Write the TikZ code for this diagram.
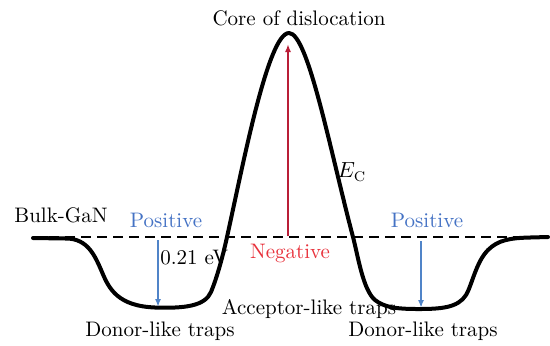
\documentclass[tikz,border=0pt]{standalone}
\usetikzlibrary{arrows.meta}
\definecolor{posblue}{RGB}{68,114,196}
\definecolor{arrblue}{RGB}{80,132,200}
\definecolor{negred}{RGB}{232,50,60}
\definecolor{arrred}{RGB}{185,30,55}
\begin{document}
\begin{tikzpicture}[x=0.5pt,y=-0.5pt,
  band/.style={line width=2pt,line join=round,line cap=round},
  fermi/.style={line width=1.2pt,dash pattern=on 5pt off 3pt},
  lbl/.style={inner sep=0pt,font=\fontsize{10.5}{12.5}\selectfont},
  poslbl/.style={lbl,text=posblue},
  arrb/.style={arrblue,line width=0.9pt,-{Latex[length=4pt,width=3pt]}},
  arrr/.style={arrred,line width=0.9pt,-{Latex[length=4pt,width=3pt]}}]
\useasboundingbox (0,0) rectangle (550,345);
% Fermi level
\coordinate (fl) at (33,237);
\coordinate (fr) at (548,237);
\draw[fermi] (fl) -- (fr);
% band edge
\draw[band] (33,238) -- (66,238.5)
  .. controls (88,238.5) and (95,256) .. (102,272)
  .. controls (109,289) and (118,306) .. (155,307.5)
  .. controls (185,308.5) and (205,306) .. (211,292)
  .. controls (216,280) and (222,260) .. (227,237)
  .. controls (243,165) and (268,33) .. (289,33)
  .. controls (308,33) and (330,150) .. (353,237)
  .. controls (358,256) and (363,290) .. (375,300)
  .. controls (384,307) and (395,309) .. (418,309)
  .. controls (440,309) and (458,308) .. (466,295)
  .. controls (472,285) and (476,262) .. (488,250)
  .. controls (498,240) and (510,238) .. (530,237.5) -- (548,237);
% arrows
\coordinate (a1s) at (158,240); \coordinate (a1e) at (158,307);
\coordinate (a2s) at (421,241); \coordinate (a2e) at (421,308);
\coordinate (a3s) at (288,236); \coordinate (a3e) at (288,44);
\draw[arrb] (a1s) -- (a1e);
\draw[arrb] (a2s) -- (a2e);
\draw[arrr] (a3s) -- (a3e);
% labels
\node[lbl] (core) at (299,18) {Core of dislocation};
\node[lbl] (ec) at (352,172) {$E_{\mathrm{C}}$};
\node[lbl] (bulk) at (61,215) {Bulk-GaN};
\node[poslbl] (posl) at (166,220) {Positive};
\node[poslbl] (posr) at (427,220) {Positive};
\node[lbl,anchor=west] (ev) at (160,258) {0.21 eV};
\node[lbl,text=negred] (neg) at (290,253) {Negative};
\node[lbl] (acc) at (309,309) {Acceptor-like traps};
\node[lbl] (donl) at (160,331) {Donor-like traps};
\node[lbl] (donr) at (423,331) {Donor-like traps};
\end{tikzpicture}
\end{document}
